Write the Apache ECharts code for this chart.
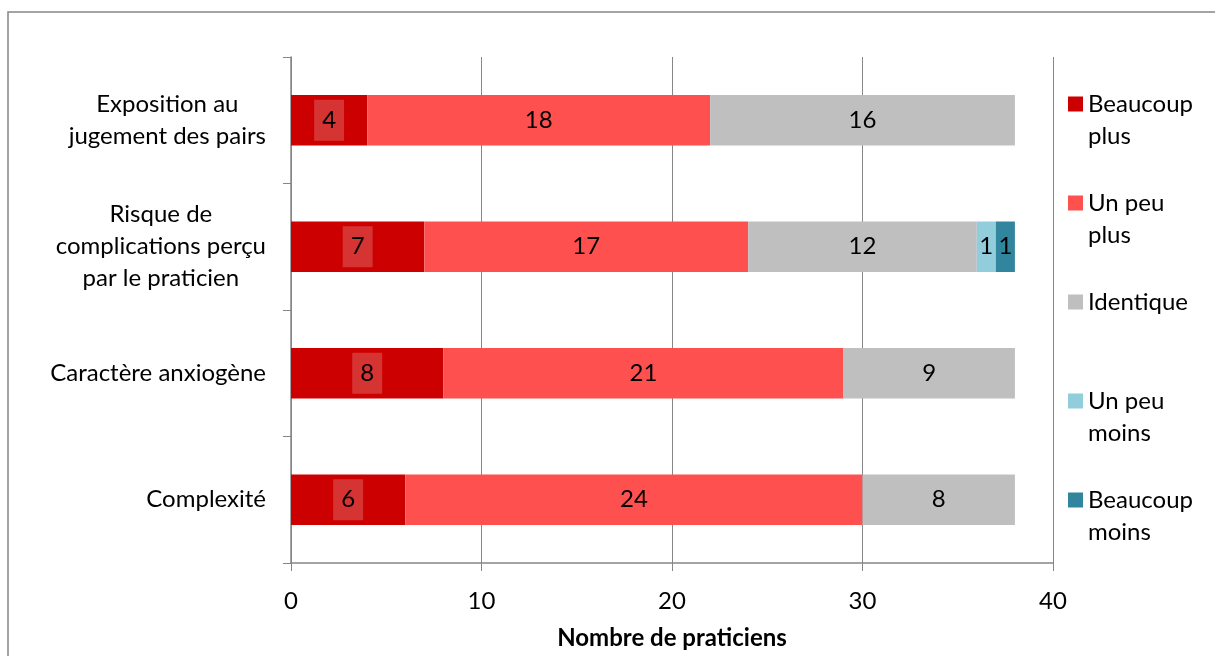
<!DOCTYPE html>
<html>
<head>
<meta charset="utf-8">
<script src="https://cdn.jsdelivr.net/npm/echarts@6/dist/echarts.min.js"></script>
<style>
  html, body { margin: 0; padding: 0; background: #fff; }
  #chart { width: 1215px; height: 656px; }
</style>
</head>
<body>
<div id="chart"></div>
<script>
// Survey answers per criterion (number of practitioners)
const categories = [
  'Exposition au\njugement des pairs',
  'Risque de\ncomplications perçu\npar le praticien',
  'Caractère anxiogène',
  'Complexité'
];
const seriesNames = ['Beaucoup plus', 'Un peu plus', 'Identique', 'Un peu moins', 'Beaucoup moins'];
const legendLabels = ['Beaucoup\nplus', 'Un peu\nplus', 'Identique', 'Un peu\nmoins', 'Beaucoup\nmoins'];
const beaucoupPlus = [4, 7, 8, 6];
const unPeuPlus = [18, 17, 21, 24];
const identique = [16, 12, 9, 8];
const unPeuMoins = [0, 1, 0, 0];
const beaucoupMoins = [0, 1, 0, 0];
const xTicks = [0, 10, 20, 30, 40];

const colors = ['#CC0000', '#FF5050', '#BFBFBF', '#92CDDC', '#31859C'];
const values = [beaucoupPlus, unPeuPlus, identique, unPeuMoins, beaucoupMoins];
const FONT = 'Lato, "Open Sans", sans-serif';
const FS = 24;
const GRAY = '#868686';

const series = seriesNames.map((name, i) => ({
  name,
  type: 'bar',
  stack: 'total',
  barWidth: '40%',
  itemStyle: { color: colors[i] },
  label: {
    show: true,
    position: 'inside',
    color: '#000',
    fontFamily: FONT,
    fontSize: FS,
    formatter: p => (p.value ? String(p.value) : ''),
    ...(i === 0 ? { backgroundColor: '#D63333', lineHeight: 24, padding: [9, 8, 8, 8] } : {})
  },
  data: values[i]
}));

// Legend entries are laid out on three text lines so every block has the
// same height; the first text line sits level with the colour square.
function legendText(name) {
  const label = legendLabels[seriesNames.indexOf(name)];
  return label.includes('\n') ? '\n' + label : '\n' + label + '\n';
}

// Category names: lines centred on each other, block right-aligned to the axis.
function categoryText(value) {
  return value.split('\n').map(line => '{c|' + line + '}').join('\n');
}

const chart = echarts.init(document.getElementById('chart'));
chart.setOption({
  animation: false,
  backgroundColor: '#fff',
  graphic: [{
    type: 'rect',
    shape: { x: 8, y: 12, width: 1300, height: 800 },
    style: { fill: 'none', stroke: GRAY, lineWidth: 1.5 },
    silent: true,
    z: -1
  }],
  grid: { left: 291, right: 162, top: 57, bottom: 93 },
  legend: {
    orient: 'vertical',
    left: 1068,
    top: 56,
    padding: 0,
    itemWidth: 15,
    itemHeight: 15,
    itemGap: 3,
    icon: 'rect',
    textStyle: { fontFamily: FONT, fontSize: FS, color: '#000', lineHeight: 32 },
    data: seriesNames,
    formatter: legendText
  },
  xAxis: {
    type: 'value',
    min: xTicks[0],
    max: xTicks[xTicks.length - 1],
    interval: 10,
    name: 'Nombre de praticiens',
    nameLocation: 'middle',
    nameGap: 63,
    nameTextStyle: { fontFamily: FONT, fontSize: FS, fontWeight: 'bold', color: '#000' },
    axisLine: { show: true, lineStyle: { color: GRAY, width: 1.5 } },
    axisTick: { show: true, length: 8, lineStyle: { color: GRAY } },
    axisLabel: { fontFamily: FONT, fontSize: FS, color: '#000', margin: 26 },
    splitLine: { show: true, lineStyle: { color: GRAY, width: 1 } }
  },
  yAxis: {
    type: 'category',
    inverse: true,
    data: categories,
    axisLine: { show: true, lineStyle: { color: GRAY, width: 1.5 } },
    axisTick: { show: true, length: 8, lineStyle: { color: GRAY } },
    axisLabel: {
      fontFamily: FONT, fontSize: FS, color: '#000', margin: 25, lineHeight: 32, align: 'right',
      formatter: categoryText,
      rich: { c: { fontFamily: FONT, fontSize: FS, color: '#000', lineHeight: 32, align: 'center' } }
    }
  },
  series
});
</script>
</body>
</html>
